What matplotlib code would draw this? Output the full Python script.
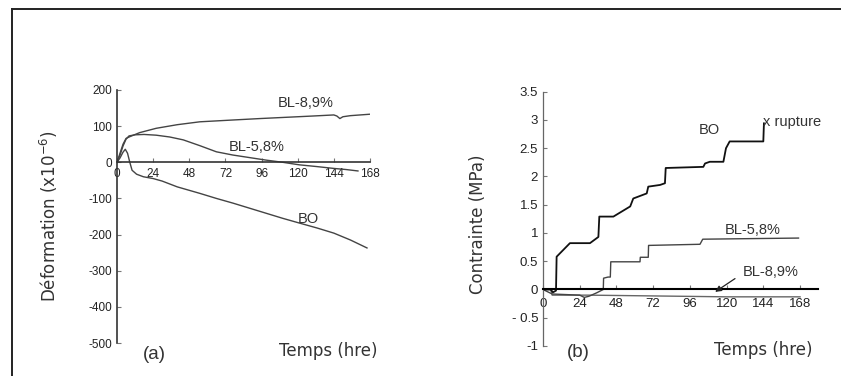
import matplotlib
matplotlib.use("Agg")
import matplotlib.pyplot as plt
from matplotlib.lines import Line2D

plt.rcParams["axes.unicode_minus"] = False

# ---------------- (a) Déformation ----------------
t_a_bl89 = [0, 2, 4, 6, 8.6, 15, 26, 40, 55, 77, 95, 110, 130, 144, 146, 148, 150, 155, 168]
v_a_bl89 = [0, 25, 50, 66, 71, 82, 94, 104, 112, 117, 121, 124, 128, 131, 128, 121, 126, 129, 133]

t_a_bl58 = [0, 2, 4, 6, 8, 12, 18, 26, 35, 44, 55, 66, 77, 88, 99, 110, 121, 133, 144, 152, 160]
v_a_bl58 = [0, 20, 45, 64, 73, 76, 77, 75, 70, 62, 46, 29, 20, 13, 6, 0, -7, -12, -17, -20, -24]

t_a_bo = [0, 2, 4, 5.5, 7, 8.5, 10, 13, 17.5, 24, 30, 40, 55, 66, 77, 88, 99, 110, 121, 133, 144, 155, 166]
v_a_bo = [0, 12, 28, 36, 25, 0, -22, -33, -40, -45, -52, -68, -86, -100, -113, -127, -141, -155, -168, -182, -196, -215, -237]

xticks_a = [0, 24, 48, 72, 96, 120, 144, 168]
yticks_a = [200, 100, 0, -100, -200, -300, -400, -500]

# ---------------- (b) Contrainte ----------------
t_b_bo = [0, 5, 6.5, 8.5, 8.9, 17.6, 30.7, 36.2, 36.8, 46, 57, 59, 67.8, 68.8, 76.5,
          79.7, 80.2, 104.8, 105.9, 109, 117.9, 119.6, 122, 144, 144.4]
v_b_bo = [0, 0, -0.05, -0.02, 0.58, 0.82, 0.82, 0.93, 1.29, 1.29, 1.47, 1.61, 1.70, 1.82, 1.85,
          1.88, 2.15, 2.17, 2.23, 2.26, 2.26, 2.50, 2.62, 2.62, 2.94]

t_b_bl58 = [0, 6, 15, 24, 27, 30, 35, 39.4, 39.6, 42.5, 44, 44.3, 63.4, 63.6, 68.8, 69, 102.6, 104.4, 167]
v_b_bl58 = [0, -0.08, -0.09, -0.1, -0.14, -0.12, -0.06, 0, 0.2, 0.22, 0.22, 0.49, 0.49, 0.57, 0.57, 0.78, 0.80, 0.89, 0.91]

t_b_bl89 = [0, 5, 6, 30, 60, 90, 120, 168]
v_b_bl89 = [0, 0, -0.1, -0.1, -0.11, -0.12, -0.13, -0.13]

xticks_b = [0, 24, 48, 72, 96, 120, 144, 168]
yticks_b = [3.5, 3, 2.5, 2, 1.5, 1, 0.5, 0, -0.5, -1]
ylabels_b = ["3.5", "3", "2.5", "2", "1.5", "1", "0.5", "0", "- 0.5", "-1"]

W, H = 841, 376
fig = plt.figure(figsize=(W / 100, H / 100), dpi=100)
fig.patch.set_facecolor("white")

TICKFONT = "Liberation Sans"
LABFONT = "DejaVu Sans"
gris = "#333333"


def style_axes(ax, spine_col, taille):
    ax.spines[["top", "right"]].set_visible(False)
    ax.spines["bottom"].set_position(("data", 0))
    ax.spines["left"].set_color(spine_col)
    ax.tick_params(direction="in", length=3, width=0.8, color="#777777",
                   labelsize=taille, labelcolor="#222222")
    for lab in ax.get_xticklabels() + ax.get_yticklabels():
        lab.set_fontfamily(TICKFONT)


# ---- panneau (a)
axa = fig.add_axes([117 / W, 1 - 343 / H, 253 / W, 253 / H])
axa.plot(t_a_bl89, v_a_bl89, color="#444444", lw=1.0)
axa.plot(t_a_bl58, v_a_bl58, color="#444444", lw=1.0)
axa.plot(t_a_bo, v_a_bo, color="#444444", lw=1.0)
axa.set_xlim(0, 168)
axa.set_ylim(-500, 200)
axa.set_xticks(xticks_a)
axa.set_yticks(yticks_a)
style_axes(axa, "#333333", 8.5)
axa.spines["bottom"].set_color("#333333")
axa.spines["left"].set_linewidth(1.2)
axa.spines["bottom"].set_linewidth(1.2)
axa.tick_params(axis="x", pad=4)
axa.set_ylabel(r"Déformation (x10$^{-6}$)", fontfamily=LABFONT, fontsize=12, color=gris)
axa.yaxis.set_label_coords(-0.225, 0.5)
axa.text(125, 164, "BL-8,9%", fontfamily=TICKFONT, fontsize=10.5, ha="center", va="center", color=gris)
axa.text(93, 42, "BL-5,8%", fontfamily=TICKFONT, fontsize=10.5, ha="center", va="center", color=gris)
axa.text(127, -157, "BO", fontfamily=TICKFONT, fontsize=10.5, ha="center", va="center", color=gris)
axa.text(140, -522, "Temps (hre)", fontfamily=LABFONT, fontsize=12, ha="center", va="center",
         color=gris, clip_on=False)
axa.text(25, -532, "(a)", fontfamily=TICKFONT, fontsize=13.5, ha="center", va="center",
         color=gris, clip_on=False)

# ---- panneau (b)
axb = fig.add_axes([543 / W, 1 - 346 / H, 275.4 / W, 254.3 / H])
axb.plot(t_b_bl89, v_b_bl89, color="#666666", lw=1.0)
axb.plot(t_b_bl58, v_b_bl58, color="#444444", lw=1.0)
axb.plot(t_b_bo, v_b_bo, color="#111111", lw=1.3)
axb.set_xlim(0, 180)
axb.set_ylim(-1, 3.5)
axb.set_xticks(xticks_b)
axb.set_yticks(yticks_b)
axb.set_yticklabels(ylabels_b)
style_axes(axb, "#666666", 9.5)
axb.spines["bottom"].set_color("black")
axb.spines["bottom"].set_linewidth(1.5)
axb.spines["left"].set_linewidth(0.9)
axb.tick_params(axis="x", pad=6)
axb.set_ylabel("Contrainte (MPa)", fontfamily=LABFONT, fontsize=12, color=gris)
axb.yaxis.set_label_coords(-0.203, 0.48)
axb.text(109, 2.82, "BO", fontfamily=TICKFONT, fontsize=10.5, ha="center", va="center", color=gris)
axb.text(143.6, 2.97, "x rupture", fontfamily=TICKFONT, fontsize=10.5, ha="left", va="center", color=gris)
axb.text(137, 1.05, "BL-5,8%", fontfamily=TICKFONT, fontsize=10.5, ha="center", va="center", color=gris)
axb.text(148.5, 0.31, "BL-8,9%", fontfamily=TICKFONT, fontsize=10.5, ha="center", va="center", color=gris)
axb.annotate("", xy=(111, -0.07), xytext=(127, 0.22),
             arrowprops=dict(arrowstyle="-|>", color="#222222", lw=0.9, mutation_scale=9))
axb.text(144, -1.07, "Temps (hre)", fontfamily=LABFONT, fontsize=12, ha="center", va="center",
         color=gris, clip_on=False)
axb.text(23, -1.12, "(b)", fontfamily=TICKFONT, fontsize=13.5, ha="center", va="center",
         color=gris, clip_on=False)

# cadre autour de la figure
fig.add_artist(Line2D([12 / W, 12 / W], [0, 1 - 9 / H], color="#222222", lw=1.4))
fig.add_artist(Line2D([12 / W, 1], [1 - 9 / H, 1 - 9 / H], color="#222222", lw=1.4))

fig.savefig("out.png", dpi=100)
